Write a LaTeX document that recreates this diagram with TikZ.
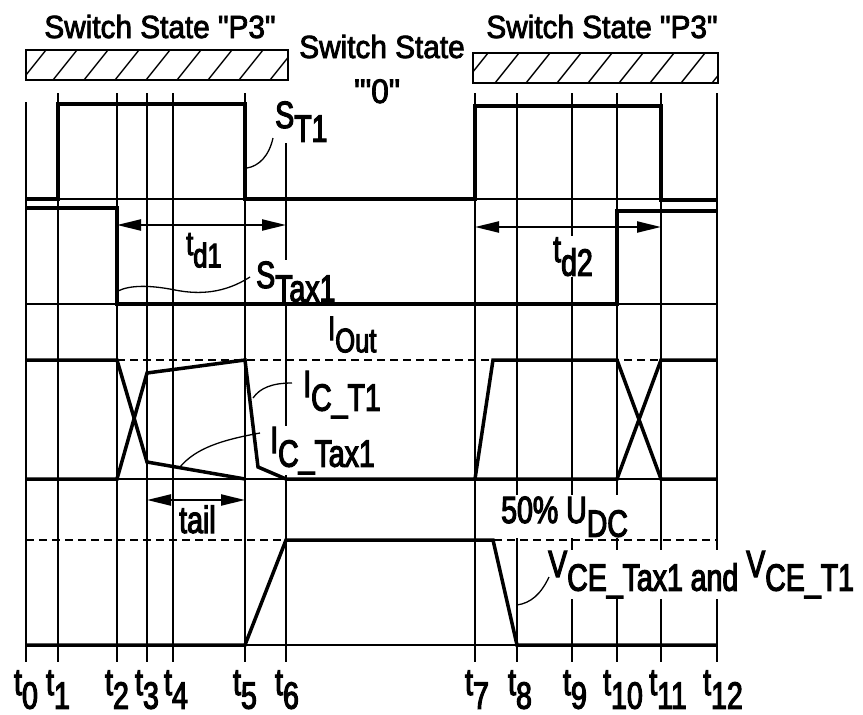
\documentclass[tikz,border=0pt]{standalone}
\usepackage{fontspec}
\newfontfamily\fA{Liberation Sans}[FakeStretch=0.75,FakeBold=3]
\newfontfamily\fB{Liberation Sans}[FakeStretch=0.93,FakeBold=2.5]
\usetikzlibrary{arrows.meta}
\newcommand{\lw}[1]{\raisebox{-0.36em}{#1}}
\tikzset{
  gridln/.style={line width=1.3pt},
  wave/.style={line width=3.5pt},
  baseln/.style={line width=1.3pt},
  dsh/.style={line width=1.4pt, dash pattern=on 8pt off 5pt},
  lab/.style={font=\fA\fontsize{38}{40}\selectfont, inner sep=1pt, fill=white},
  labs/.style={font=\fA\fontsize{34}{36}\selectfont, inner sep=1pt, fill=white},
  tlab/.style={font=\fA\fontsize{38}{40}\selectfont, inner sep=0pt, anchor=base},
  sw/.style={font=\fB\fontsize{32}{34}\selectfont, inner sep=0pt, anchor=base},
  lead/.style={line width=1.3pt},
  dimarr/.style={line width=2.2pt, {Triangle[length=24pt,width=11pt]}-{Triangle[length=24pt,width=11pt]}},
  hatchbox/.style={line width=2.2pt},
  hatch/.style={line width=1.4pt}
}
\begin{document}
\begin{tikzpicture}[x=1pt,y=-1pt]
\useasboundingbox (0,0) rectangle (863,715);
% time coordinates
\def\tz{26}\def\ta{58}\def\tb{117}\def\tc{147}\def\td{173}\def\te{245}\def\tf{286}
\def\tg{475}\def\th{517}\def\ti{572}\def\tj{617}\def\tk{661}\def\tl{717}

% grid lines
\draw[line width=2.4pt] (\tz,102) -- (\tz,662);
\foreach \x in {\ta,\tb,\tc,\td,\te,\tg,\th,\ti,\tj,\tk,\tl} \draw[gridln] (\x,93) -- (\x,662);
\draw[gridln] (\tf,133) -- (\tf,662);

% base lines and dashed levels
\draw[baseln] (\tz,199) -- (\tl,199);
\draw[baseln] (\tz,304) -- (\tl,304);
\draw[baseln] (\tz,479) -- (\tl,479);
\draw[baseln] (\tz,645) -- (\tl,645);
\draw[dsh] (\tz,360) -- (\tl,360);
\draw[dsh] (\tz,540) -- (\tl,540);

% hatched state bars
\begin{scope}
\clip (26,50) rectangle (288,80);
\foreach \x in {22,53,...,300} \draw[hatch] (\x,80) -- ++(24,-30);
\end{scope}
\draw[hatchbox] (26,50) rectangle (288,80);
\begin{scope}
\clip (473,53) rectangle (718,83);
\foreach \x in {464,495,...,720} \draw[hatch] (\x,83) -- ++(24,-30);
\end{scope}
\draw[hatchbox] (473,53) rectangle (718,83);

\node[sw] (swL) at (160,38) {Switch State "P3"};
\node[sw] (swR) at (602,38) {Switch State "P3"};
\node[sw] (swM) at (382,58) {Switch State};
\node[sw, font=\fB\fontsize{34}{36}\selectfont] (swZ) at (377,103) {'"0"};

% labels (white background interrupts grid lines)
\node[lab, anchor=base west] (sT1) at (274,128) {S\lw{T1}};
\node[labs, anchor=base west] (td1) at (185,255) {t\lw{d1}};
\node[lab, anchor=base west] (sTax1) at (255,288) {S\lw{Tax1}};
\node[labs, anchor=base west] (iout) at (327,340) {I\lw{Out}};
\node[lab, anchor=base west] (icT1) at (302,397) {I\lw{C\_T1}};
\node[lab, anchor=base west] (icTax1) at (269,453) {I\lw{C\_Tax1}};
\node[lab, anchor=base west] (tail) at (178,533) {tail};
\node[lab, anchor=base west] (udc) at (500,523) {50\% U\lw{DC}};
\node[lab, anchor=base west] (vce) at (547,577) {V\lw{CE\_Tax1 and }V\lw{CE\_T1}};
\node[lab, anchor=base west] (td2) at (552,262) {t\lw{d2}};

% waveforms
\draw[wave] (\tz,199) -- (\ta,199) -- (\ta,104) -- (\te,104) -- (\te,199) -- (\tg,199)
  -- (\tg,106) -- (\tk,106) -- (\tk,200) -- (\tl,200);
\draw[wave] (\tz,208) -- (\tb,208) -- (\tb,304) -- (\tj,304) -- (\tj,211) -- (\tl,211);
\draw[wave] (\tz,360) -- (\tb,360) -- (\tc,462) -- (\te,479);
\draw[wave] (\tz,479) -- (\tb,479) -- (\tc,373) -- (\te,360) -- (258,467) -- (\tf,479) -- (\tj,479)
  -- (\tk,360) -- (\tl,360);
\draw[wave] (\tg,479) -- (493,360) -- (\tj,360) -- (\tk,479) -- (\tl,479);
\draw[wave] (\tz,645) -- (\te,645) -- (\tf,540) -- (493,540) -- (\th,645) -- (\tl,645);

% dimension arrows
\coordinate (d1a) at (\tb,225); \coordinate (d1b) at (\tf,225);
\coordinate (d2a) at (\tg,227); \coordinate (d2b) at (\tk,227);
\coordinate (tla) at (\tc,500); \coordinate (tlb) at (\te,500);
\draw[dimarr] (d1a) -- (d1b);
\draw[dimarr] (d2a) -- (d2b);
\draw[dimarr] (tla) -- (tlb);

% leader lines
\coordinate (l1s) at (273,138); \coordinate (l1e) at (247,168);
\draw[lead] (l1s) .. controls (269,156) and (259,166) .. (l1e);
\coordinate (l2s) at (250,277); \coordinate (l2e) at (118,291);
\draw[lead] (l2s) .. controls (225,293) and (200,295) .. (175,290) .. controls (150,285) and (130,285) .. (l2e);
\coordinate (l3s) at (292,383); \coordinate (l3e) at (253,398);
\draw[lead] (l3s) .. controls (272,383) and (260,388) .. (l3e);
\coordinate (l4s) at (260,433); \coordinate (l4e) at (180,467);
\draw[lead] (l4s) .. controls (222,440) and (196,448) .. (l4e);
\coordinate (l5s) at (549,577); \coordinate (l5e) at (517,605);
\draw[lead] (l5s) .. controls (541,594) and (531,603) .. (l5e);

% time labels
\node[tlab] (T0) at (\tz,695) {t\lw{0}};
\node[tlab] (T1) at (\ta,695) {t\lw{1}};
\node[tlab] (T2) at (\tb,695) {t\lw{2}};
\node[tlab] (T3) at (\tc,695) {t\lw{3}};
\node[tlab] (T4) at (\td+3,695) {t\lw{4}};
\node[tlab] (T5) at (\te,695) {t\lw{5}};
\node[tlab] (T6) at (\tf+1,695) {t\lw{6}};
\node[tlab] (T7) at (\tg+2,695) {t\lw{7}};
\node[tlab] (T8) at (\th+3,695) {t\lw{8}};
\node[tlab] (T9) at (\ti+3,695) {t\lw{9}};
\node[tlab] (T10) at (\tj+6,695) {t\lw{10}};
\node[tlab] (T11) at (\tk+7,695) {t\lw{11}};
\node[tlab] (T12) at (\tl+6,695) {t\lw{12}};
\end{tikzpicture}
\end{document}
